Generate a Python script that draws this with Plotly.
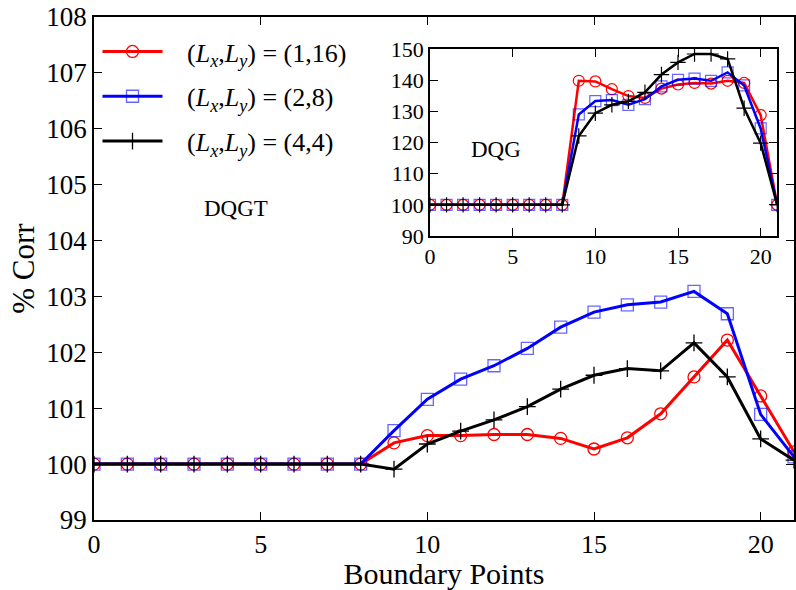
import plotly.graph_objects as go

x = list(range(22))

# Main panel (DQGT)
main_red = [100]*9 + [100.38, 100.51, 100.51, 100.53, 100.53, 100.46, 100.27, 100.47, 100.90, 101.56, 102.22, 101.22, 100.22]
main_blue = [100]*9 + [100.60, 101.16, 101.52, 101.76, 102.07, 102.45, 102.72, 102.85, 102.90, 103.09, 102.69, 100.89, 100.13]
main_black = [100]*9 + [99.91, 100.36, 100.59, 100.79, 101.03, 101.34, 101.59, 101.71, 101.67, 102.17, 101.56, 100.45, 100.07]

# Inset (DQG)
ins_red = [100]*9 + [139.8, 139.6, 137.1, 134.9, 134.3, 137.3, 138.6, 139.1, 138.9, 139.8, 139.1, 128.8, 100]
ins_blue = [100]*9 + [129.0, 133.3, 133.6, 132.1, 133.9, 138.0, 140.1, 140.5, 139.8, 142.5, 138.3, 124.5, 100]
ins_black = [100]*9 + [122.1, 129.4, 132.1, 133.2, 136.1, 141.8, 145.7, 148.4, 148.4, 146.8, 131.0, 119.8, 100]

pre = "&nbsp;&nbsp;&nbsp;"
names = [pre + "(<i>L</i><sub><i>x</i></sub>,<i>L</i><sub><i>y</i></sub>) = (1,16)",
         pre + "(<i>L</i><sub><i>x</i></sub>,<i>L</i><sub><i>y</i></sub>) = (2,8)",
         pre + "(<i>L</i><sub><i>x</i></sub>,<i>L</i><sub><i>y</i></sub>) = (4,4)"]
colors = ["#ff0000", "#0000ff", "#000000"]
symbols = ["circle-open", "square-open", "cross-thin-open"]
mcolors = ["#ff0000", "rgba(0,0,255,0.6)", "#000000"]

FONT = "Liberation Serif, Times New Roman, serif"
fig = go.Figure()

for i, ys in enumerate([main_red, main_blue, main_black]):
    fig.add_trace(go.Scatter(
        x=x, y=ys, mode="lines+markers", name=names[i], legendgroup=f"g{i}",
        line=dict(color=colors[i], width=3),
        marker=dict(symbol=symbols[i], size=12, color=mcolors[i],
                    line=dict(color=mcolors[i], width=1.3)),
        xaxis="x", yaxis="y"))

for i, ys in enumerate([ins_red, ins_blue, ins_black]):
    fig.add_trace(go.Scatter(
        x=x, y=ys, mode="lines+markers", showlegend=False,
        line=dict(color=colors[i], width=2.5),
        marker=dict(symbol=symbols[i], size=11, color=mcolors[i],
                    line=dict(color=mcolors[i], width=1.2)),
        xaxis="x2", yaxis="y2"))

axis_common = dict(showline=True, linecolor="black", linewidth=1.5, mirror="ticks",
                   ticks="inside", ticklen=8, tickwidth=1, tickcolor="black",
                   showgrid=False, zeroline=False)

fig.update_layout(
    width=796, height=590,
    margin=dict(l=94, r=0, t=17, b=70),
    paper_bgcolor="white", plot_bgcolor="white",
    font=dict(family=FONT, color="black"),
    xaxis=dict(range=[0, 21], tickvals=[0, 5, 10, 15, 20], domain=[0, 1],
               tickfont=dict(size=26, family=FONT),
               title=dict(text="Boundary Points", font=dict(size=30, family=FONT), standoff=6),
               **axis_common),
    yaxis=dict(range=[99, 108], tickvals=list(range(99, 109)), domain=[0, 1],
               tickfont=dict(size=27, family=FONT),
               title=dict(text="% Corr", font=dict(size=31, family=FONT), standoff=2),
               **axis_common),
    xaxis2=dict(range=[0, 21], tickvals=[0, 5, 10, 15, 20], domain=[0.480, 0.976],
                anchor="y2", tickfont=dict(size=22, family=FONT), **axis_common),
    yaxis2=dict(range=[90, 150], tickvals=list(range(90, 151, 10)), domain=[0.5646, 0.9364],
                anchor="x2", tickfont=dict(size=22, family=FONT), **axis_common),
    legend=dict(x=0.005, y=0.978, xanchor="left", yanchor="top",
                bgcolor="rgba(0,0,0,0)", font=dict(size=26, family=FONT),
                tracegroupgap=8, itemwidth=60),
    showlegend=True,
    annotations=[
        dict(text="DQGT", x=4.25, y=104.58, xref="x", yref="y", showarrow=False,
             font=dict(size=23, family=FONT)),
        dict(text="DQG", x=4.0, y=117.6, xref="x2", yref="y2", showarrow=False,
             font=dict(size=23, family=FONT)),
    ],
)

fig.write_html("out.html")
